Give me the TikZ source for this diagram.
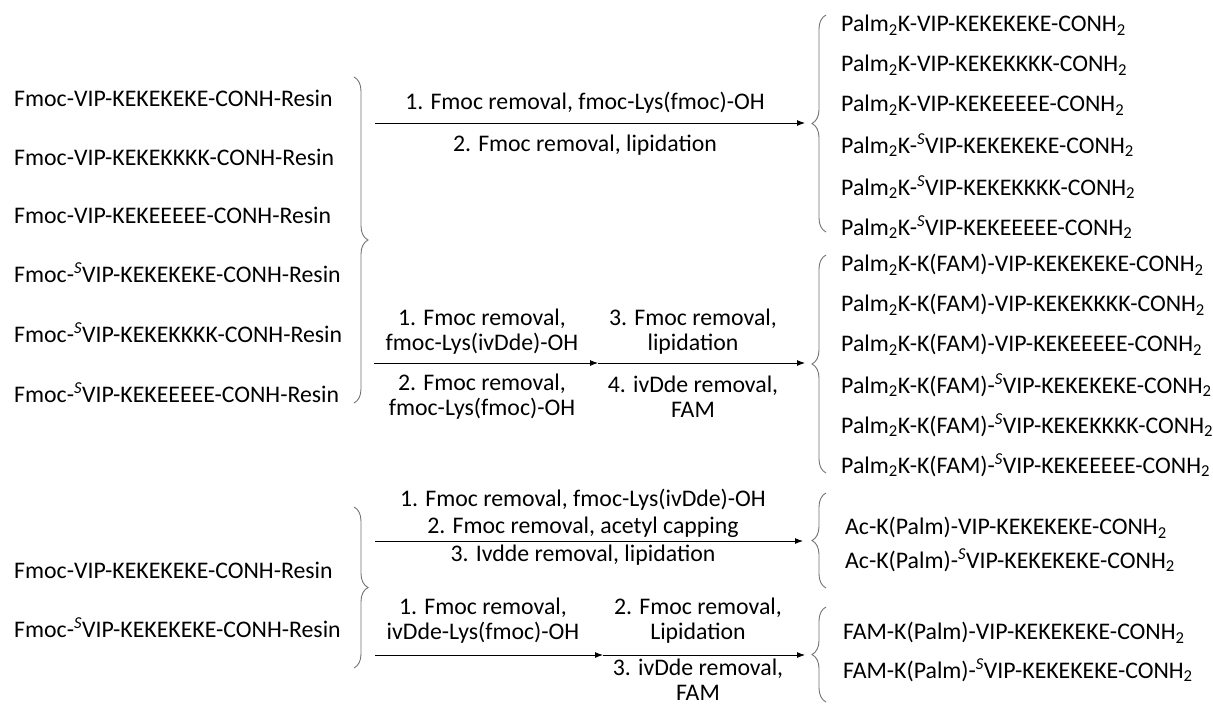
\documentclass[tikz,border=0pt]{standalone}
\usepackage{fontspec}
\setmainfont{Carlito}
\usetikzlibrary{decorations.pathreplacing,arrows.meta}
\newcommand\Sv{\textsuperscript{\itshape S}}
\newcommand\ttwo{\textsubscript{2}}
\begin{document}
\begin{tikzpicture}[x=1pt,y=-1pt,
  txt/.style={anchor=west,inner sep=0pt,font=\fontsize{23.8}{26}\selectfont},
  lbl/.style={inner sep=0pt,align=center,font=\fontsize{23.8}{25}\selectfont},
  brc/.style={draw=black!55,line width=0.9pt,decorate,decoration={brace,amplitude=14pt}},
  arr/.style={draw=black,line width=0.9pt,-{Latex[length=8pt,width=6pt]}}]
\useasboundingbox[fill=white] (0,0) rectangle (1213,705);

% ---------- group 1/2 starting materials ----------
\node[txt] (s1) at (14,98)  {Fmoc-VIP-KEKEKEKE-CONH-Resin};
\node[txt] (s2) at (14,157) {Fmoc-VIP-KEKEKKKK-CONH-Resin};
\node[txt] (s3) at (14,215) {Fmoc-VIP-KEKEEEEE-CONH-Resin};
\node[txt] (s4) at (14,273) {Fmoc-\Sv VIP-KEKEKEKE-CONH-Resin};
\node[txt] (s5) at (14,333) {Fmoc-\Sv VIP-KEKEKKKK-CONH-Resin};
\node[txt] (s6) at (14,393) {Fmoc-\Sv VIP-KEKEEEEE-CONH-Resin};
\draw[brc] (354,77) -- (354,403);

% ---------- route 1 ----------
\coordinate (a1s) at (375,123);
\coordinate (a1e) at (805,123);
\draw[arr] (a1s) -- (a1e);
\node[lbl] (l1a) at (585,103) {1. Fmoc removal, fmoc-Lys(fmoc)-OH};
\node[lbl] (l1b) at (585,145) {2. Fmoc removal, lipidation};
\draw[brc] (826,232) -- (826,15);
\node[txt] (p1) at (841,25)  {Palm\ttwo K-VIP-KEKEKEKE-CONH\ttwo};
\node[txt] (p2) at (841,65)  {Palm\ttwo K-VIP-KEKEKKKK-CONH\ttwo};
\node[txt] (p3) at (841,105) {Palm\ttwo K-VIP-KEKEEEEE-CONH\ttwo};
\node[txt] (p4) at (841,145) {Palm\ttwo K-\Sv VIP-KEKEKEKE-CONH\ttwo};
\node[txt] (p5) at (841,187) {Palm\ttwo K-\Sv VIP-KEKEKKKK-CONH\ttwo};
\node[txt] (p6) at (841,227) {Palm\ttwo K-\Sv VIP-KEKEEEEE-CONH\ttwo};

% ---------- route 2 ----------
\coordinate (a2s) at (374,363);
\coordinate (a2m) at (598,363);
\coordinate (a2e) at (805,363);
\draw[arr] (a2s) -- (a2m);
\draw[arr] (a2m) -- (a2e);
\node[lbl] (l2a) at (482,332) {1. Fmoc removal,\\fmoc-Lys(ivDde)-OH};
\node[lbl] (l2b) at (482,397) {2. Fmoc removal,\\fmoc-Lys(fmoc)-OH};
\node[lbl] (l2c) at (693,332) {3. Fmoc removal,\\lipidation};
\node[lbl] (l2d) at (693,397) {4. ivDde removal,\\FAM};
\draw[brc] (826,473) -- (826,255);
\node[txt] (q1) at (841,265) {Palm\ttwo K-K(FAM)-VIP-KEKEKEKE-CONH\ttwo};
\node[txt] (q2) at (841,305) {Palm\ttwo K-K(FAM)-VIP-KEKEKKKK-CONH\ttwo};
\node[txt] (q3) at (841,345) {Palm\ttwo K-K(FAM)-VIP-KEKEEEEE-CONH\ttwo};
\node[txt] (q4) at (841,385) {Palm\ttwo K-K(FAM)-\Sv VIP-KEKEKEKE-CONH\ttwo};
\node[txt] (q5) at (841,425) {Palm\ttwo K-K(FAM)-\Sv VIP-KEKEKKKK-CONH\ttwo};
\node[txt] (q6) at (841,465) {Palm\ttwo K-K(FAM)-\Sv VIP-KEKEEEEE-CONH\ttwo};

% ---------- group 3/4 starting materials ----------
\node[txt] (t1) at (14,570) {Fmoc-VIP-KEKEKEKE-CONH-Resin};
\node[txt] (t2) at (14,628) {Fmoc-\Sv VIP-KEKEKEKE-CONH-Resin};
\draw[brc] (354,507) -- (354,668);

% ---------- route 3 ----------
\coordinate (a3s) at (375,541);
\coordinate (a3e) at (803,541);
\draw[arr] (a3s) -- (a3e);
\node[lbl,font=\fontsize{23.8}{27}\selectfont] (l3a) at (583,513) {1. Fmoc removal, fmoc-Lys(ivDde)-OH\\2. Fmoc removal, acetyl capping};
\node[lbl] (l3b) at (583,555) {3. Ivdde removal, lipidation};
\draw[brc] (826,588) -- (826,493);
\node[txt] (r1) at (845,528) {Ac-K(Palm)-VIP-KEKEKEKE-CONH\ttwo};
\node[txt] (r2) at (845,560) {Ac-K(Palm)-\Sv VIP-KEKEKEKE-CONH\ttwo};

% ---------- route 4 ----------
\coordinate (a4s) at (375,655);
\coordinate (a4m) at (603,655);
\coordinate (a4e) at (805,655);
\draw[arr] (a4s) -- (a4m);
\draw[arr] (a4m) -- (a4e);
\node[lbl] (l4a) at (483,621) {1. Fmoc removal,\\ivDde-Lys(fmoc)-OH};
\node[lbl] (l4b) at (698,621) {2. Fmoc removal,\\Lipidation};
\node[lbl] (l4c) at (698,680) {3. ivDde removal,\\FAM};
\draw[brc] (826,702) -- (826,607);
\node[txt] (u1) at (843,633) {FAM-K(Palm)-VIP-KEKEKEKE-CONH\ttwo};
\node[txt] (u2) at (843,670) {FAM-K(Palm)-\Sv VIP-KEKEKEKE-CONH\ttwo};
\end{tikzpicture}
\end{document}
